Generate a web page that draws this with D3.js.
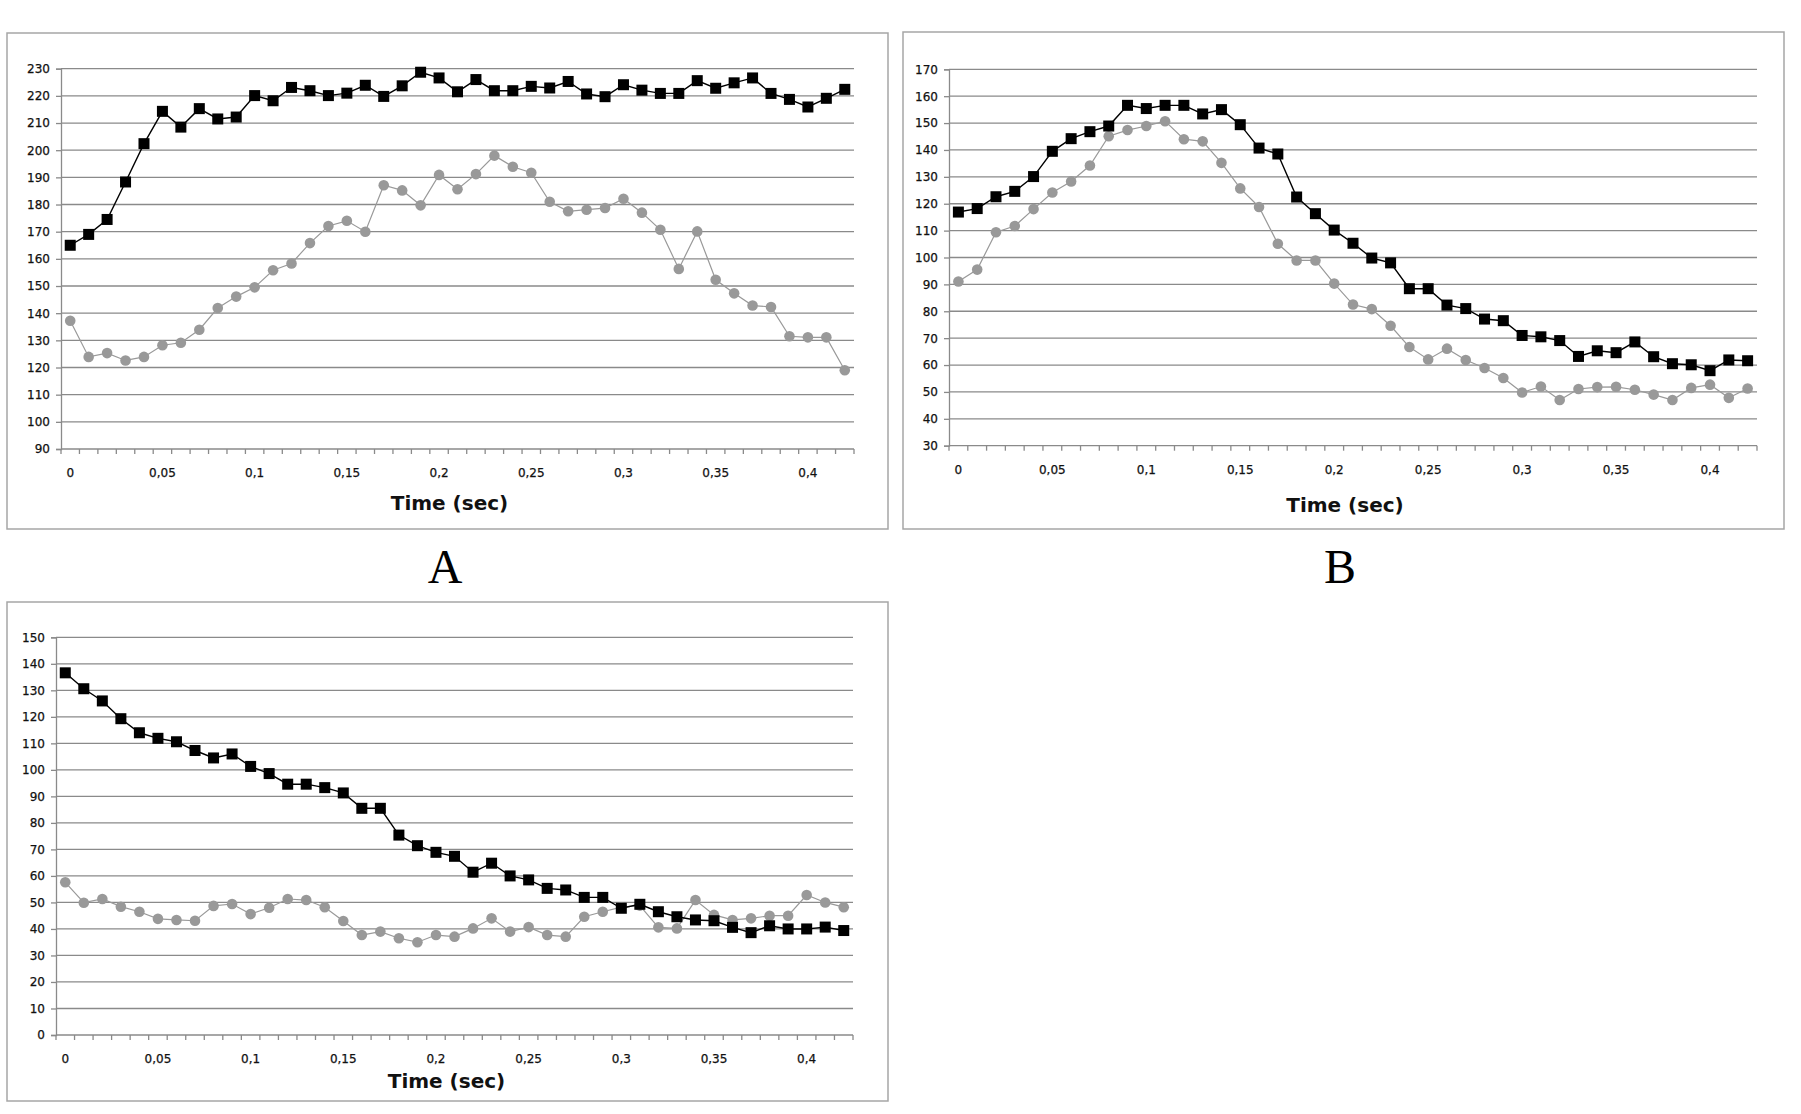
<!DOCTYPE html>
<html><head><meta charset="utf-8">
<script src="https://cdn.jsdelivr.net/npm/d3@7"></script>
<style>
html,body{margin:0;padding:0;background:#fff;}
svg{display:block;}
</style></head>
<body>
<svg id="chart" width="1801" height="1114"></svg>
<script>
// ---- data ----
const times = [0,0.01,0.02,0.03,0.04,0.05,0.06,0.07,0.08,0.09,0.1,0.11,0.12,0.13,0.14,0.15,0.16,0.17,0.18,0.19,0.2,0.21,0.22,0.23,0.24,0.25,0.26,0.27,0.28,0.29,0.3,0.31,0.32,0.33,0.34,0.35,0.36,0.37,0.38,0.39,0.4,0.41,0.42];
const xTickLabels = ["0","0,05","0,1","0,15","0,2","0,25","0,3","0,35","0,4"];
const xLabelTimes = [0,0.05,0.1,0.15,0.2,0.25,0.3,0.35,0.4];

const aBlack = [165,169,174.5,188.3,202.4,214.3,208.5,215.3,211.5,212.2,220.1,218.2,223.1,221.9,220.1,221,223.9,219.8,223.7,228.7,226.6,221.5,226,221.9,221.9,223.5,222.9,225.3,220.7,219.7,224.1,222.1,220.9,220.9,225.6,222.8,224.8,226.6,220.9,218.7,215.9,219.1,222.4];
const aGray = [137.2,123.9,125.3,122.6,123.9,128.2,129.1,133.9,141.9,146.1,149.5,155.8,158.3,165.8,172.1,174,170,187.1,185.2,179.7,190.9,185.6,191.2,198,193.9,191.7,181,177.5,178.1,178.7,182.1,177,170.7,156.3,170.1,152.3,147.3,142.8,142.3,131.5,131.1,131.1,119];
const aYTicks = [90,100,110,120,130,140,150,160,170,180,190,200,210,220,230];

const bBlack = [116.9,118.2,122.6,124.6,130.1,139.5,144.2,146.8,148.9,156.6,155.4,156.6,156.6,153.4,155,149.4,140.7,138.5,122.5,116.3,110.2,105.3,99.8,98,88.4,88.4,82.3,81,77.1,76.5,71,70.5,69.1,63.2,65.3,64.6,68.6,63.1,60.5,60.1,57.9,61.9,61.6];
const bGray = [91.1,95.5,109.4,111.7,118,124.2,128.3,134.2,145.1,147.4,148.9,150.7,144,143.2,135.2,125.7,118.8,105.1,98.9,98.9,90.3,82.5,80.8,74.6,66.7,62.1,66.1,61.9,58.9,55.2,49.8,52,47,51.1,51.8,51.9,50.8,49,47,51.5,52.7,47.8,51.3];
const bYTicks = [30,40,50,60,70,80,90,100,110,120,130,140,150,160,170];

const cBlack = [136.6,130.6,126,119.3,114,111.9,110.6,107.3,104.5,106,101.3,98.6,94.6,94.6,93.3,91.3,85.5,85.5,75.4,71.4,68.9,67.4,61.4,64.8,60,58.5,55.3,54.7,51.9,51.9,47.8,49.3,46.5,44.6,43.4,43.1,40.6,38.6,41.2,40,40,40.7,39.4];
const cGray = [57.6,49.9,51.3,48.4,46.5,43.8,43.4,43.1,48.7,49.4,45.6,48,51.3,50.9,48.2,43,37.7,39,36.5,35,37.7,37.1,40.2,44,39,40.7,37.7,37.1,44.6,46.5,48.2,48.8,40.6,40.2,50.9,45.3,43.4,44,45,45,52.8,50,48.2];
const cYTicks = [0,10,20,30,40,50,60,70,80,90,100,110,120,130,140,150];

const axisTitle = "Time (sec)";

// ---- layout (positions only) ----
const panels = [
  {frame:[7,33,881,496], plot:[61,68.7,854,449], yTicks:aYTicks, black:aBlack, gray:aGray, titleY:510, letter:"A", letterX:445},
  {frame:[903,32,881,497], plot:[949,69.3,1757,445.7], yTicks:bYTicks, black:bBlack, gray:bGray, titleY:512, letter:"B", letterX:1340},
  {frame:[7,602,881,499], plot:[56,637.3,853,1035], yTicks:cYTicks, black:cBlack, gray:cGray, titleY:1088, letter:null}
];

const svg = d3.select("#chart");
const GRID = "#8a8a8a";
const FRAME = "#a6a6a6";
const TXT = "#111";
const FONT = "DejaVu Sans, Verdana, sans-serif";

panels.forEach(p => {
  const [fx, fy, fw, fh] = p.frame;
  svg.append("rect").attr("x", fx).attr("y", fy).attr("width", fw).attr("height", fh)
    .attr("fill", "#fff").attr("stroke", FRAME).attr("stroke-width", 1.5);

  const [x0, y0, x1, y1] = p.plot;
  const x = d3.scaleBand().domain(times).range([x0, x1]).padding(0);
  const y = d3.scaleLinear().domain([p.yTicks[0], p.yTicks[p.yTicks.length-1]]).range([y1, y0]);
  const g = svg.append("g");

  // gridlines
  g.append("g").selectAll("line").data(p.yTicks.slice(1)).join("line")
    .attr("x1", x0).attr("x2", x1).attr("y1", d => y(d)).attr("y2", d => y(d))
    .attr("stroke", GRID).attr("stroke-width", 1.3);

  // y axis
  const yAxis = g.append("g").attr("transform", `translate(${x0},0)`)
    .call(d3.axisLeft(y).tickValues(p.yTicks).tickSize(5).tickPadding(6).tickFormat(d3.format("d")));
  yAxis.select(".domain").attr("stroke", GRID).attr("stroke-width", 1.3);
  yAxis.selectAll(".tick line").attr("stroke", GRID).attr("stroke-width", 1.3);
  yAxis.selectAll("text").attr("font-family", FONT).attr("font-size", 12).attr("fill", TXT)
    .attr("stroke", TXT).attr("stroke-width", 0.25);

  // x axis line
  g.append("line").attr("x1", x0).attr("x2", x1).attr("y1", y1).attr("y2", y1)
    .attr("stroke", GRID).attr("stroke-width", 1.3);
  const bounds = times.map(t => x(t)).concat([x1]);
  g.append("g").selectAll("line").data(bounds).join("line")
    .attr("x1", d => d).attr("x2", d => d).attr("y1", y1).attr("y2", y1 + 5)
    .attr("stroke", GRID).attr("stroke-width", 1.3);
  g.append("g").selectAll("text").data(xLabelTimes).join("text")
    .attr("x", (d) => x(d) + x.bandwidth()/2)
    .attr("y", y1 + 28)
    .attr("text-anchor", "middle")
    .attr("font-family", FONT).attr("font-size", 12).attr("fill", TXT)
    .attr("stroke", TXT).attr("stroke-width", 0.25)
    .text((d, i) => xTickLabels[i]);

  // title
  g.append("text").attr("x", (x0 + x1)/2 - 8).attr("y", p.titleY)
    .attr("text-anchor", "middle").attr("font-family", FONT).attr("font-weight", "bold")
    .attr("font-size", 20).attr("fill", "#111").text(axisTitle);

  const cx = t => x(t) + x.bandwidth()/2;
  const line = d3.line().x((d, i) => cx(times[i])).y(d => y(d));

  // gray series
  g.append("path").datum(p.gray).attr("d", line).attr("fill", "none")
    .attr("stroke", "#999").attr("stroke-width", 1.2);
  g.append("g").selectAll("circle").data(p.gray).join("circle")
    .attr("cx", (d, i) => cx(times[i])).attr("cy", d => y(d)).attr("r", 5.3)
    .attr("fill", "#999");

  // black series
  g.append("path").datum(p.black).attr("d", line).attr("fill", "none")
    .attr("stroke", "#000").attr("stroke-width", 1.4);
  const s = 11;
  g.append("g").selectAll("rect").data(p.black).join("rect")
    .attr("x", (d, i) => cx(times[i]) - s/2).attr("y", d => y(d) - s/2)
    .attr("width", s).attr("height", s).attr("fill", "#000");

  if (p.letter) {
    svg.append("text").attr("x", p.letterX).attr("y", 583).attr("text-anchor", "middle")
      .attr("font-family", "Liberation Serif, Times New Roman, serif").attr("font-size", 48)
      .attr("fill", "#000").text(p.letter);
  }
});
</script>
</body></html>
